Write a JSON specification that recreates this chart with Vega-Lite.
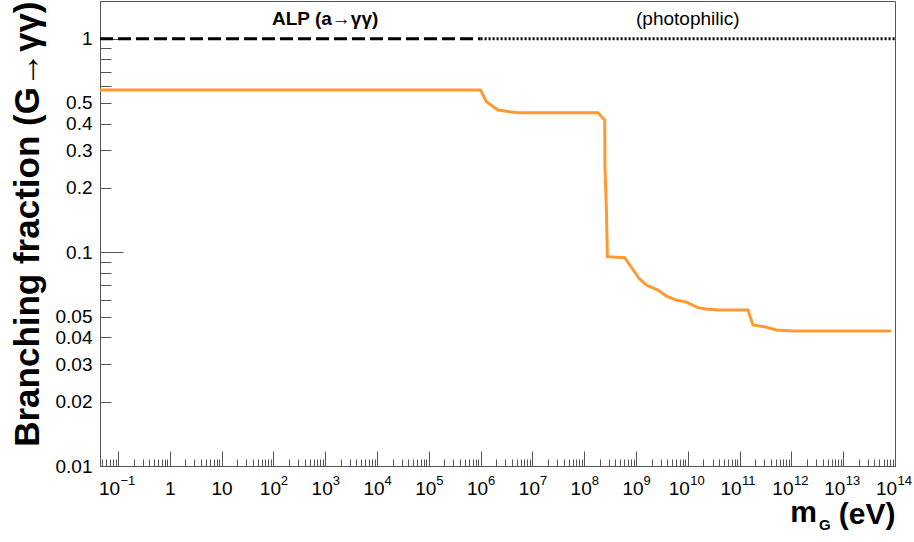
{
  "$schema": "https://vega.github.io/schema/vega-lite/v6.json",
  "width": 795,
  "height": 465,
  "autosize": "none",
  "padding": {"left": 100, "top": 1, "right": 19, "bottom": 76},
  "background": "white",
  "config": {
    "font": "Liberation Sans",
    "view": {"stroke": "#555", "strokeWidth": 1},
    "axis": {
      "domainColor": "#555",
      "tickColor": "#555",
      "grid": false,
      "labelColor": "black",
      "titleColor": "black",
      "labelFont": "Liberation Sans",
      "titleFont": "Liberation Sans",
      "labelOverlap": false,
      "labelFlush": false
    }
  },
  "resolve": {"axis": {"x": "independent"}},
  "encoding": {
    "x": {
      "field": "m",
      "type": "quantitative",
      "scale": {"type": "log", "domain": [0.045, 1e14], "nice": false},
      "axis": null
    },
    "y": {
      "field": "bf",
      "type": "quantitative",
      "scale": {"type": "log", "domain": [0.01, 1.5], "nice": false},
      "axis": {
        "values": [0.01,0.02,0.03,0.04,0.05,0.06,0.07,0.08,0.09,0.1,0.2,0.3,0.4,0.5,0.6,0.7,0.8,0.9,1],
        "labelExpr": "indexof([0.01,0.02,0.03,0.04,0.05,0.1,0.2,0.3,0.4,0.5,1], datum.value) >= 0 ? format(datum.value, '~g') : ''",
        "tickSize": {"condition": {"test": "indexof([0.01,0.1,1], datum.value) >= 0", "value": -23}, "value": -11},
        "labelPadding": {"condition": {"test": "indexof([0.01,0.1,1], datum.value) >= 0", "value": 31}, "value": 19},
        "labelFontSize": 19,
        "title": "Branching fraction (G→γγ)",
        "titleFontSize": 35,
        "titleFontWeight": "bold",
        "titleAnchor": "end",
        "titlePadding": 10
      }
    }
  },
  "layer": [
    {
      "data": {"values": [
        {"m": 0.045, "bf": 1},
        {"m": 1e6, "bf": 1}
      ]},
      "mark": {"type": "line", "color": "black", "strokeWidth": 3, "strokeDash": [13, 5], "strokeCap": "butt"},
      "encoding": {}
    },
    {
      "data": {"values": [
        {"m": 1e6, "bf": 1},
        {"m": 1e14, "bf": 1}
      ]},
      "mark": {"type": "line", "color": "black", "strokeWidth": 3, "strokeDash": [2, 2], "strokeCap": "butt"},
      "encoding": {
        "x": {
          "field": "m",
          "type": "quantitative",
          "scale": {"type": "log", "domain": [0.045, 1e14], "nice": false},
          "axis": {
            "orient": "bottom",
            "values": [0.1,1,10,100,1e3,1e4,1e5,1e6,1e7,1e8,1e9,1e10,1e11,1e12,1e13,1e14],
            "domain": false,
            "ticks": false,
            "labelExpr": "round(log(datum.value)/LN10) == -1 ? '−1' : (round(log(datum.value)/LN10) >= 2 ? '' + round(log(datum.value)/LN10) : '')",
            "labelAlign": "left",
            "labelBaseline": "top",
            "labelFontSize": 13,
            "labelPadding": 8,
            "labelOffset": {"condition": {"test": "round(log(datum.value)/LN10) == -1 || round(log(datum.value)/LN10) >= 10", "value": 2}, "value": 7},
            "title": null
          }
        }
      }
    },
    {
      "data": {"values": [
        {"m": 0.045, "bf": 0.5745},
        {"m": 1.0e6, "bf": 0.5745},
        {"m": 1.29e6, "bf": 0.5066},
        {"m": 2.17e6, "bf": 0.4634},
        {"m": 3.65e6, "bf": 0.4548},
        {"m": 5.3e6, "bf": 0.45},
        {"m": 1.85e8, "bf": 0.45},
        {"m": 2.49e8, "bf": 0.4159},
        {"m": 2.52e8, "bf": 0.2515},
        {"m": 2.69e8, "bf": 0.1551},
        {"m": 2.8e8, "bf": 0.0954},
        {"m": 6.05e8, "bf": 0.0943},
        {"m": 1.18e9, "bf": 0.0748},
        {"m": 1.59e9, "bf": 0.0703},
        {"m": 2.66e9, "bf": 0.0666},
        {"m": 3.87e9, "bf": 0.0624},
        {"m": 6.03e9, "bf": 0.0598},
        {"m": 9.4e9, "bf": 0.0585},
        {"m": 1.57e10, "bf": 0.0551},
        {"m": 2.29e10, "bf": 0.0543},
        {"m": 3.83e10, "bf": 0.0537},
        {"m": 1.45e11, "bf": 0.0537},
        {"m": 1.81e11, "bf": 0.0457},
        {"m": 3.05e11, "bf": 0.0448},
        {"m": 5.13e11, "bf": 0.0433},
        {"m": 1.07e12, "bf": 0.0428},
        {"m": 8.5e13, "bf": 0.0428}
      ]},
      "mark": {"type": "line", "color": "#ff9933", "strokeWidth": 3},
      "encoding": {
        "x": {
          "field": "m",
          "type": "quantitative",
          "scale": {"type": "log", "domain": [0.045, 1e14], "nice": false},
          "axis": {
            "orient": "bottom",
            "values": [0.05,0.06,0.07,0.08,0.09,
              0.1,0.2,0.3,0.4,0.5,0.6,0.7,0.8,0.9,
              1,2,3,4,5,6,7,8,9,
              10,20,30,40,50,60,70,80,90,
              100,200,300,400,500,600,700,800,900,
              1e3,2e3,3e3,4e3,5e3,6e3,7e3,8e3,9e3,
              1e4,2e4,3e4,4e4,5e4,6e4,7e4,8e4,9e4,
              1e5,2e5,3e5,4e5,5e5,6e5,7e5,8e5,9e5,
              1e6,2e6,3e6,4e6,5e6,6e6,7e6,8e6,9e6,
              1e7,2e7,3e7,4e7,5e7,6e7,7e7,8e7,9e7,
              1e8,2e8,3e8,4e8,5e8,6e8,7e8,8e8,9e8,
              1e9,2e9,3e9,4e9,5e9,6e9,7e9,8e9,9e9,
              1e10,2e10,3e10,4e10,5e10,6e10,7e10,8e10,9e10,
              1e11,2e11,3e11,4e11,5e11,6e11,7e11,8e11,9e11,
              1e12,2e12,3e12,4e12,5e12,6e12,7e12,8e12,9e12,
              1e13,2e13,3e13,4e13,5e13,6e13,7e13,8e13,9e13,
              1e14],
            "labelExpr": "abs(log(datum.value)/LN10 - round(log(datum.value)/LN10)) < 1e-6 ? (round(log(datum.value)/LN10) == 0 ? '1' : '10') : ''",
            "tickSize": {"condition": {"test": "abs(log(datum.value)/LN10 - round(log(datum.value)/LN10)) < 1e-6", "value": -15}, "value": -7},
            "labelFontSize": 19,
            "labelBaseline": "top",
            "labelPadding": 28,
            "labelOffset": {"condition": [
              {"test": "round(log(datum.value)/LN10) == -1 || round(log(datum.value)/LN10) >= 10", "value": -9},
              {"test": "round(log(datum.value)/LN10) >= 2", "value": -3.5}
            ], "value": 0},
            "title": "(eV)",
            "titleFontSize": 30,
            "titleFontWeight": "bold",
            "titleAnchor": "end",
            "titlePadding": -7
          }
        }
      }
    },
    {
      "data": {"values": [{"m": 1000, "bf": 1.23, "label": "ALP (a→γγ)"}]},
      "mark": {"type": "text", "fontSize": 19, "fontWeight": "bold", "align": "center", "baseline": "middle", "color": "black"},
      "encoding": {"text": {"field": "label"}}
    },
    {
      "data": {"values": [{"m": 1e10, "bf": 1.23, "label": "(photophilic)"}]},
      "mark": {"type": "text", "fontSize": 19, "align": "center", "baseline": "middle", "color": "black"},
      "encoding": {"text": {"field": "label"}}
    },
    {
      "data": {"values": [{"m": 3.12e12, "bf": 0.01, "label": "m"}]},
      "mark": {"type": "text", "fontSize": 30, "fontWeight": "bold", "align": "right", "baseline": "alphabetic", "dy": 56, "color": "black", "clip": false},
      "encoding": {"text": {"field": "label"}}
    },
    {
      "data": {"values": [{"m": 3.4e12, "bf": 0.01, "label": "G"}]},
      "mark": {"type": "text", "fontSize": 15, "fontWeight": "bold", "align": "left", "baseline": "alphabetic", "dy": 64, "color": "black", "clip": false},
      "encoding": {"text": {"field": "label"}}
    }
  ]
}
